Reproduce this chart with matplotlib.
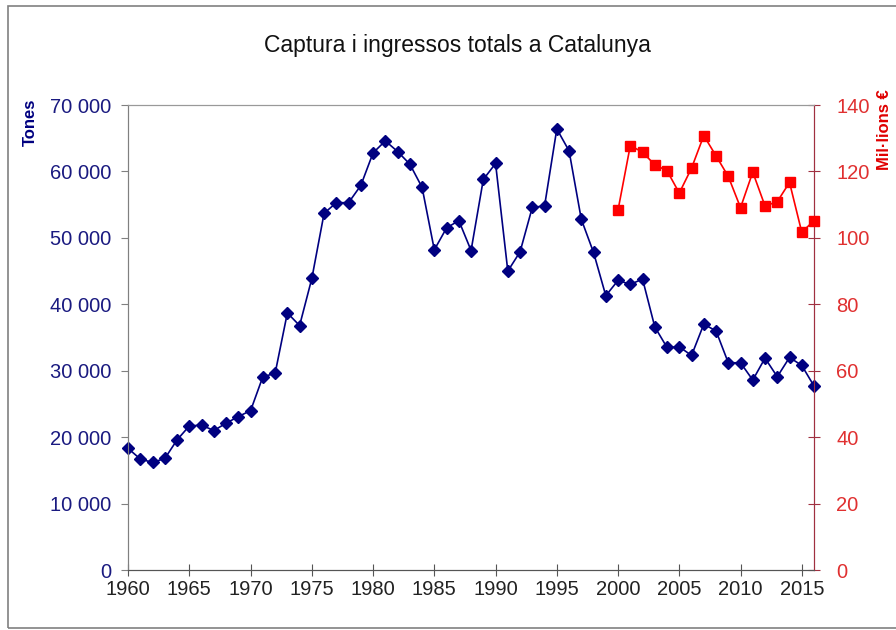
import numpy as np
import matplotlib.pyplot as plt
from matplotlib.patches import Rectangle
from matplotlib.ticker import FuncFormatter

plt.rcParams['font.family'] = ['Liberation Sans', 'DejaVu Sans']

## dades
years = list(range(1960, 2017))
tones = [18300, 16700, 16200, 16800, 19600, 21700, 21800, 21000, 22100, 23100,
         24000, 29100, 29600, 38700, 36800, 43900, 53700, 55300, 55300, 57900,
         62800, 64600, 63000, 61100, 57600, 48200, 51500, 52600, 48100, 58800,
         61200, 45000, 47900, 54600, 54800, 66400, 63100, 52800, 47800, 41300,
         43600, 43000, 43800, 36600, 33500, 33600, 32300, 37000, 36000, 31200,
         31200, 28600, 31900, 29100, 32000, 30800, 27700]
years_eur = list(range(2000, 2017))
milions = [108.4, 127.8, 125.8, 122.0, 120.2, 113.5, 121.0, 130.8, 124.7, 118.5,
           109.1, 119.8, 109.6, 110.9, 116.7, 101.7, 105.2]

navy = '#000080'
red = '#ff0000'

fig = plt.figure(figsize=(8.96, 6.3), dpi=100)
ax = fig.add_axes([0.143, 0.0952, 0.7655, 0.7381])
ax2 = ax.twinx()

# marc exterior
fig.patches.append(Rectangle((8/896, 2/630), 1.0, 622/630, transform=fig.transFigure,
                             fill=False, edgecolor='#808080', lw=1.2))

ax.plot(years, tones, color=navy, marker='D', markersize=6, lw=1.2, zorder=3, clip_on=False)
ax2.plot(years_eur, milions, color=red, marker='s', markersize=6.5, lw=1.2, zorder=3, clip_on=False)

ax.set_xlim(1960, 2016)
ax.set_ylim(0, 70000)
ax2.set_ylim(0, 140)
ax.set_xticks(range(1960, 2016, 5))
ax.set_yticks(range(0, 70001, 10000))
ax2.set_yticks(range(0, 141, 20))

ax.yaxis.set_major_formatter(FuncFormatter(lambda v, p: f'{int(v):,}'.replace(',', ' ')))

ax.tick_params(axis='y', colors='#808080', labelcolor='#1a1a80', labelsize=14.5,
               direction='out', length=5, pad=7)
ax.tick_params(axis='x', colors='#555555', labelcolor='#222222', labelsize=14.5,
               direction='inout', length=8, pad=3)
ax2.tick_params(axis='y', colors='#a03040', labelcolor='#e03030', labelsize=14.5,
                direction='inout', length=8, pad=12)

for a in (ax, ax2):
    a.spines['left'].set_color('#808080')
    a.spines['top'].set_color('#999999')
    a.spines['bottom'].set_color('#555555')
    a.spines['right'].set_color('#a03040')

fig.text(0.51, 0.928, 'Captura i ingressos totals a Catalunya', ha='center', va='center',
         fontsize=16.5, color='#111111')
fig.text(0.034, 0.843, 'Tones', rotation=90, ha='center', va='top',
         fontsize=12, fontweight='bold', color=navy)
fig.text(0.987, 0.858, 'Mil·lions €', rotation=90, ha='center', va='top',
         fontsize=12, fontweight='bold', color='#e00000')

fig.savefig('out.png', dpi=100)
